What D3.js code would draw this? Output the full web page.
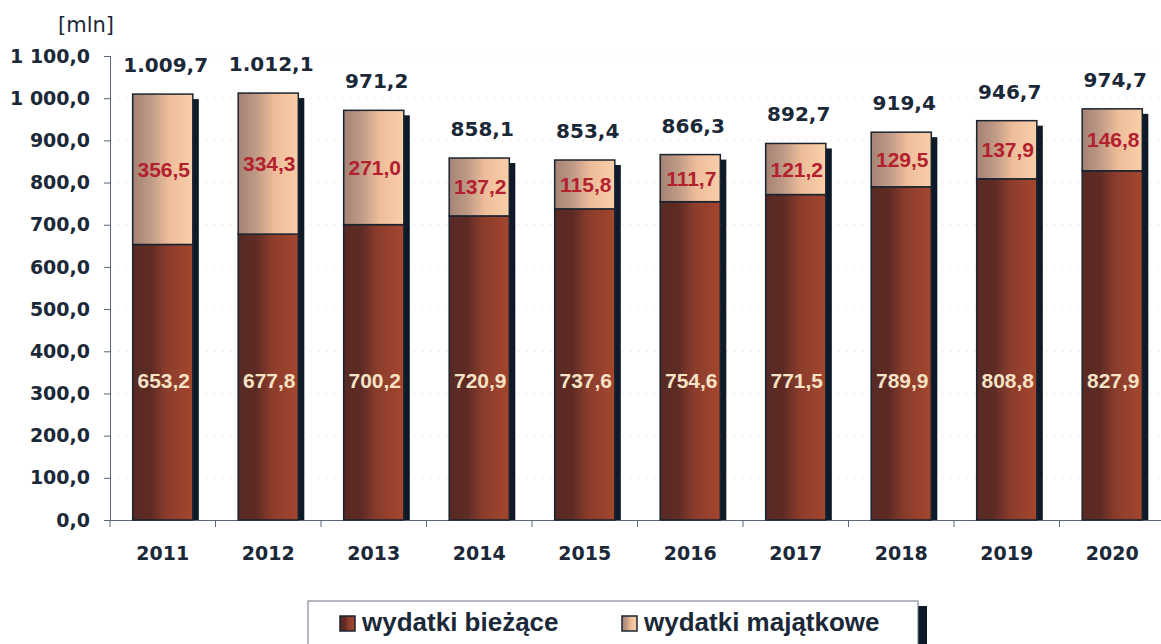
<!DOCTYPE html>
<html>
<head>
<meta charset="utf-8">
<script src="https://cdn.jsdelivr.net/npm/d3@7"></script>
<style>
  body { margin: 0; background: #fff; }
  svg text { font-family: "DejaVu Sans", sans-serif; font-weight: bold; }
  svg text.narrow { font-family: "Liberation Sans", Arial, sans-serif; }
</style>
</head>
<body>
<div id="chart"></div>
<script>
const years = ["2011", "2012", "2013", "2014", "2015", "2016", "2017", "2018", "2019", "2020"];
const current = [653.2, 677.8, 700.2, 720.9, 737.6, 754.6, 771.5, 789.9, 808.8, 827.9];
const capital = [356.5, 334.3, 271.0, 137.2, 115.8, 111.7, 121.2, 129.5, 137.9, 146.8];
const yTicks = [0, 100, 200, 300, 400, 500, 600, 700, 800, 900, 1000, 1100];
const legendLabels = ["wydatki bieżące", "wydatki majątkowe"];

const ink = "#1b2838";
const width = 1161, height = 644;

const plFmt = d3.formatLocale({ decimal: ",", thousands: " ", grouping: [3] }).format(",.1f");
const totFmt = d3.formatLocale({ decimal: ",", thousands: ".", grouping: [3] }).format(",.1f");

const svg = d3.select("#chart").append("svg")
  .attr("width", width)
  .attr("height", height);

const defs = svg.append("defs");
function grad(id, stops) {
  const g = defs.append("linearGradient").attr("id", id)
    .attr("x1", "0%").attr("x2", "100%").attr("y1", "0%").attr("y2", "0%");
  stops.forEach(s => g.append("stop").attr("offset", s[0]).attr("stop-color", s[1]));
}
grad("gBottom", [[0, "#582a24"], [0.3, "#5e2b24"], [0.55, "#8a3c2c"], [1, "#a4462e"]]);
grad("gTop", [[0, "#a48274"], [0.3, "#bf9a86"], [0.6, "#eebd9a"], [1, "#f8cfa8"]]);

const x = d3.scaleBand()
  .domain(years)
  .range([110, 1165])
  .paddingInner(0.43)
  .paddingOuter(0.215);

const y = d3.scaleLinear()
  .domain([0, 1100])
  .range([520, 56]);

// faint gridlines
svg.append("g")
  .selectAll("line")
  .data(yTicks.slice(1))
  .enter()
  .append("line")
  .attr("x1", 110).attr("x2", 1161)
  .attr("y1", d => y(d)).attr("y2", d => y(d))
  .attr("stroke", "#f1e6ec")
  .attr("stroke-dasharray", "2,6");

// y axis
const yAxis = svg.append("g")
  .attr("transform", "translate(110,0)")
  .call(d3.axisLeft(y).tickValues(yTicks).tickFormat(plFmt).tickSize(6).tickPadding(14));
yAxis.select(".domain").attr("stroke", "#5a6678");
yAxis.selectAll(".tick line").attr("stroke", "#5a6678");
yAxis.selectAll("text")
  .attr("font-size", 19)
  .attr("fill", ink);

// x axis
const xAxis = svg.append("g")
  .attr("transform", "translate(0,520)")
  .call(d3.axisBottom(x).tickSize(0).tickPadding(27));
xAxis.select(".domain").attr("stroke", "#5a6678");
xAxis.selectAll("text")
  .attr("font-size", 19)
  .attr("fill", ink);
xAxis.selectAll(".sep")
  .data(years)
  .enter()
  .append("line")
  .attr("x1", d => x(d) - x.step() * x.paddingInner() / 2)
  .attr("x2", d => x(d) - x.step() * x.paddingInner() / 2)
  .attr("y1", 0).attr("y2", 7)
  .attr("stroke", "#5a6678");

const bars = svg.append("g")
  .selectAll("g")
  .data(years)
  .enter()
  .append("g");

// shadow
bars.append("rect")
  .attr("x", d => x(d) + 6)
  .attr("y", (d, i) => y(current[i] + capital[i]) + 5)
  .attr("width", x.bandwidth())
  .attr("height", (d, i) => y(0) - y(current[i] + capital[i]) - 5)
  .attr("fill", "#0e1a28");

bars.append("rect")
  .attr("x", d => x(d))
  .attr("y", (d, i) => y(current[i]))
  .attr("width", x.bandwidth())
  .attr("height", (d, i) => y(0) - y(current[i]))
  .attr("fill", "url(#gBottom)")
  .attr("stroke", "#1a2430")
  .attr("stroke-width", 1.5);

bars.append("rect")
  .attr("x", d => x(d))
  .attr("y", (d, i) => y(current[i] + capital[i]))
  .attr("width", x.bandwidth())
  .attr("height", (d, i) => y(current[i]) - y(current[i] + capital[i]))
  .attr("fill", "url(#gTop)")
  .attr("stroke", "#1a2430")
  .attr("stroke-width", 1.5);

// labels
bars.append("text")
  .attr("class", "narrow")
  .attr("x", d => x(d) + x.bandwidth() / 2 + 1)
  .attr("y", y(330) + 7.5)
  .attr("text-anchor", "middle")
  .attr("font-size", 21)
  .attr("fill", "#f6e2c4")
  .text((d, i) => plFmt(current[i]));

bars.append("text")
  .attr("class", "narrow")
  .attr("x", d => x(d) + x.bandwidth() / 2 + 1)
  .attr("y", (d, i) => y(current[i] + capital[i] / 2) + 7.5)
  .attr("text-anchor", "middle")
  .attr("font-size", 21)
  .attr("fill", "#b3202e")
  .text((d, i) => plFmt(capital[i]));

bars.append("text")
  .attr("x", d => x(d) + x.bandwidth() / 2 + 3)
  .attr("y", (d, i) => y(current[i] + capital[i]) - 22)
  .attr("text-anchor", "middle")
  .attr("font-size", 20)
  .attr("fill", ink)
  .text((d, i) => totFmt(current[i] + capital[i]));

// unit
svg.append("text")
  .attr("x", 58).attr("y", 32)
  .attr("font-size", 21)
  .style("font-weight", "normal")
  .attr("fill", ink)
  .text("[mln]");

// legend
const legend = svg.append("g");
legend.append("rect")
  .attr("x", 918).attr("y", 606).attr("width", 9).attr("height", 50)
  .attr("fill", "#0e1a28");
legend.append("rect")
  .attr("x", 308).attr("y", 601).attr("width", 610).attr("height", 54)
  .attr("fill", "#fff")
  .attr("stroke", "#6a7484")
  .attr("stroke-width", 1);

const legendX = [340, 622];
const legendFill = ["url(#gBottom)", "url(#gTop)"];
legendLabels.forEach((label, i) => {
  legend.append("rect")
    .attr("x", legendX[i]).attr("y", 616)
    .attr("width", 15).attr("height", 15)
    .attr("fill", legendFill[i])
    .attr("stroke", "#1a2430")
    .attr("stroke-width", 1.5);
  legend.append("text")
    .attr("class", "narrow")
    .attr("x", legendX[i] + 22).attr("y", 631)
    .attr("font-size", 26)
    .attr("fill", ink)
    .text(label);
});
</script>
</body>
</html>
